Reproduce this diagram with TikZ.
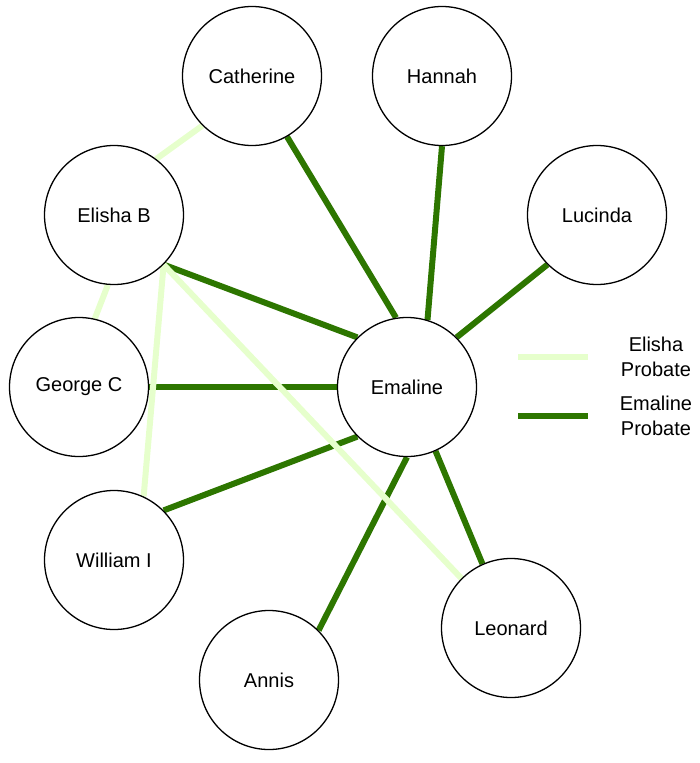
\documentclass[tikz,border=0pt]{standalone}
\usepackage{fontspec}
\setmainfont{Liberation Sans}
\usetikzlibrary{backgrounds}
\definecolor{dkg}{HTML}{2D7600}
\definecolor{ltg}{HTML}{E6FFCC}
\begin{document}
\begin{tikzpicture}[x=1pt,y=-1pt,
  person/.style={circle,draw=black,line width=1.3pt,fill=white,minimum size=139pt,inner sep=0pt,font=\fontsize{20}{24}\selectfont},
  emal/.style={draw=dkg,line width=6pt},
  elis/.style={draw=ltg,line width=6pt},
  legtext/.style={align=center,font=\fontsize{20}{25}\selectfont}]
\useasboundingbox (0,0) rectangle (700,763);
\node[person] (cat) at (252,76) {Catherine};
\node[person] (han) at (442,76) {Hannah};
\node[person] (luc) at (597,215) {Lucinda};
\node[person] (eli) at (114,215) {Elisha B};
\node[person] (geo) at (79,387) {George C};
\node[person] (ema) at (407,387) {Emaline};
\node[person] (wil) at (114,560) {William I};
\node[person] (leo) at (511,628) {Leonard};
\node[person] (ann) at (269,680) {Annis};
\begin{scope}[on background layer]
\draw[emal] (cat.300.7) -- (ema.99.9);
\draw[emal] (han.270) -- (ema.73.4);
\draw[emal] (luc.225) -- (ema.45);
\draw[emal] (eli.315) -- (ema.135);
\draw[emal] (geo.0) -- (ema.180);
\draw[emal] (wil.45) -- (ema.225);
\draw[emal] (ann.45) -- (ema.270);
\draw[emal] (leo.114) -- (ema.294);
\draw[elis] (cat.225) -- (eli.53);
\draw[elis] (eli.265) -- (geo.77);
\draw[elis] (eli.315) -- (wil.65);
\draw[elis] (eli.315) -- (leo.135);
\end{scope}
\coordinate (l1a) at (518,357);
\coordinate (l1b) at (588,357);
\coordinate (l2a) at (518,416);
\coordinate (l2b) at (588,416);
\draw[elis] (l1a) -- (l1b);
\draw[emal] (l2a) -- (l2b);
\node[legtext] (t1) at (656,357) {Elisha\\Probate};
\node[legtext] (t2) at (656,416) {Emaline\\Probate};
\end{tikzpicture}
\end{document}
